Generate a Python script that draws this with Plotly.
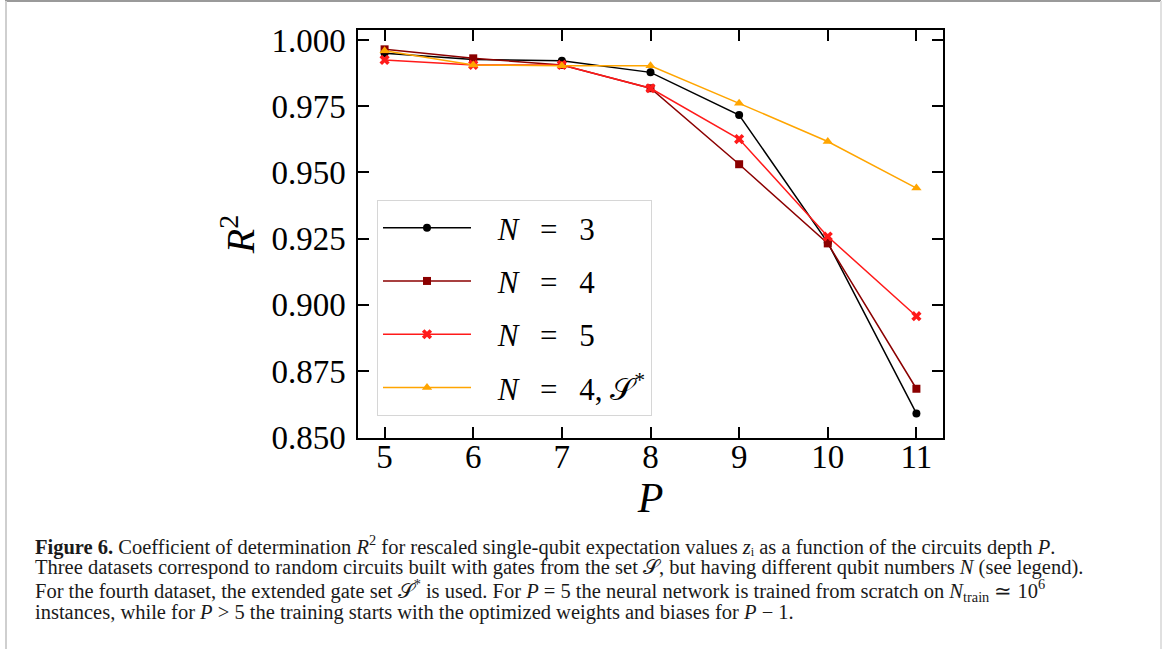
import plotly.graph_objects as go

# Circuit depth P and R^2 scores for each dataset
depth = [5, 6, 7, 8, 9, 10, 11]
r2_n3 = [0.9950, 0.9927, 0.9922, 0.9878, 0.9717, 0.9235, 0.8590]
r2_n4 = [0.9965, 0.9931, 0.9906, 0.9818, 0.9531, 0.9232, 0.8683]
r2_n5 = [0.9925, 0.9906, 0.9906, 0.9818, 0.9626, 0.9258, 0.8957]
r2_n4_ext = [0.9960, 0.9906, 0.9903, 0.9903, 0.9761, 0.9617, 0.9441]

SP = "\u2002\u2009"  # wide math-style spacing around "="
LEAD = "\u2002\u2009"  # gap between legend sample and label
series_names = [
    f"{LEAD}<i>N</i>{SP}={SP}3",
    f"{LEAD}<i>N</i>{SP}={SP}4",
    f"{LEAD}<i>N</i>{SP}={SP}5",
    f"{LEAD}<i>N</i>{SP}={SP}4, 𝒮<sup>*</sup>",
]
y_ticks = [0.850, 0.875, 0.900, 0.925, 0.950, 0.975, 1.000]
x_ticks = depth

W, H = 1165, 649
PL, PR, PT, PB = 358, 943, 30, 438  # plot box in page pixels


def px_x(x):
    return (x - PL) / (PR - PL)


def px_y(y):
    return (PB - y) / (PB - PT)


SERIF = "Liberation Serif"

fig = go.Figure()
styles = [
    ("#000000", "circle", 8),
    ("#8b0000", "square", 8),
    ("#ff1a1a", "x", 9),
    ("#ffa500", "triangle-up", 9),
]
for i, (vals, name, (col, sym, size)) in enumerate(
    zip([r2_n3, r2_n4, r2_n5, r2_n4_ext], series_names, styles)
):
    fig.add_trace(
        go.Scatter(
            x=depth,
            y=vals,
            name=name,
            mode="lines+markers",
            line=dict(color=col, width=1.5),
            marker=dict(color=col, symbol=sym, size=size, line=dict(width=0)),
            legendgroup=f"g{i}",
        )
    )

axis_common = dict(
    showgrid=False,
    zeroline=False,
    showline=True,
    linecolor="black",
    linewidth=1.5,
    mirror="ticks",
    ticks="inside",
    ticklen=11,
    tickwidth=2,
    tickcolor="black",
    tickfont=dict(family=SERIF, size=33, color="black"),
)

fig.update_xaxes(
    range=[4.7, 11.3],
    tickvals=x_ticks,
    ticktext=[str(v) for v in x_ticks],
    ticklabelstandoff=-11,
    title=dict(text="<i>P</i>", font=dict(family=SERIF, size=42, color="black"), standoff=6),
    **axis_common,
)
fig.update_yaxes(
    range=[0.8497, 1.0038],
    tickvals=y_ticks,
    ticktext=[f"{v:.3f}" for v in y_ticks],
    title=dict(text="<i>R</i><sup>2</sup>", font=dict(family=SERIF, size=40, color="black"), standoff=4),
    ticklabelstandoff=4,
    **axis_common,
)

fig.update_layout(
    width=W,
    height=H,
    margin=dict(l=PL, r=W - PR, t=PT, b=H - PB),
    paper_bgcolor="white",
    plot_bgcolor="white",
    showlegend=True,
    legend=dict(
        x=px_x(377),
        y=px_y(200),
        xanchor="left",
        yanchor="top",
        bgcolor="rgba(255,255,255,0.8)",
        bordercolor="#d6d6d6",
        borderwidth=1,
        font=dict(family=SERIF, size=31, color="black"),
        itemwidth=88,
        tracegroupgap=10,
    ),
)

# Figure frame lines
frame = [
    (5, 1, 1161, 1, "#9a9a9a", 2),
    (6, 1, 6, H, "#cfcfcf", 2),
    (1161, 1, 1161, H, "#e0e0e0", 2),
]
for x0, y0, x1, y1, col, w in frame:
    fig.add_shape(
        type="line", xref="paper", yref="paper",
        x0=px_x(x0), y0=px_y(y0), x1=px_x(x1), y1=px_y(y1),
        line=dict(color=col, width=w),
    )

caption_lines = [
    "<b>Figure 6.</b> Coefficient of determination <i>R</i><sup>2</sup> for rescaled single-qubit expectation values <i>z</i>ᵢ as a function of the circuits depth <i>P</i>.",
    "Three datasets correspond to random circuits built with gates from the set 𝒮, but having different qubit numbers <i>N</i> (see legend).",
    "For the fourth dataset, the extended gate set 𝒮<sup>*</sup> is used. For <i>P</i> = 5 the neural network is trained from scratch on <i>N</i><sub>train</sub> ≃ 10<sup>6</sup>",
    "instances, while for <i>P</i> > 5 the training starts with the optimized weights and biases for <i>P</i> − 1.",
]
caption_y = [545, 567.5, 590, 612.5]
for txt, cy in zip(caption_lines, caption_y):
    fig.add_annotation(
        text=txt, xref="paper", yref="paper",
        x=px_x(33), y=px_y(cy), xanchor="left", yanchor="middle",
        showarrow=False, align="left",
        font=dict(family=SERIF, size=20.5, color="#1a1a1a"),
    )

fig.write_html("out.html")
